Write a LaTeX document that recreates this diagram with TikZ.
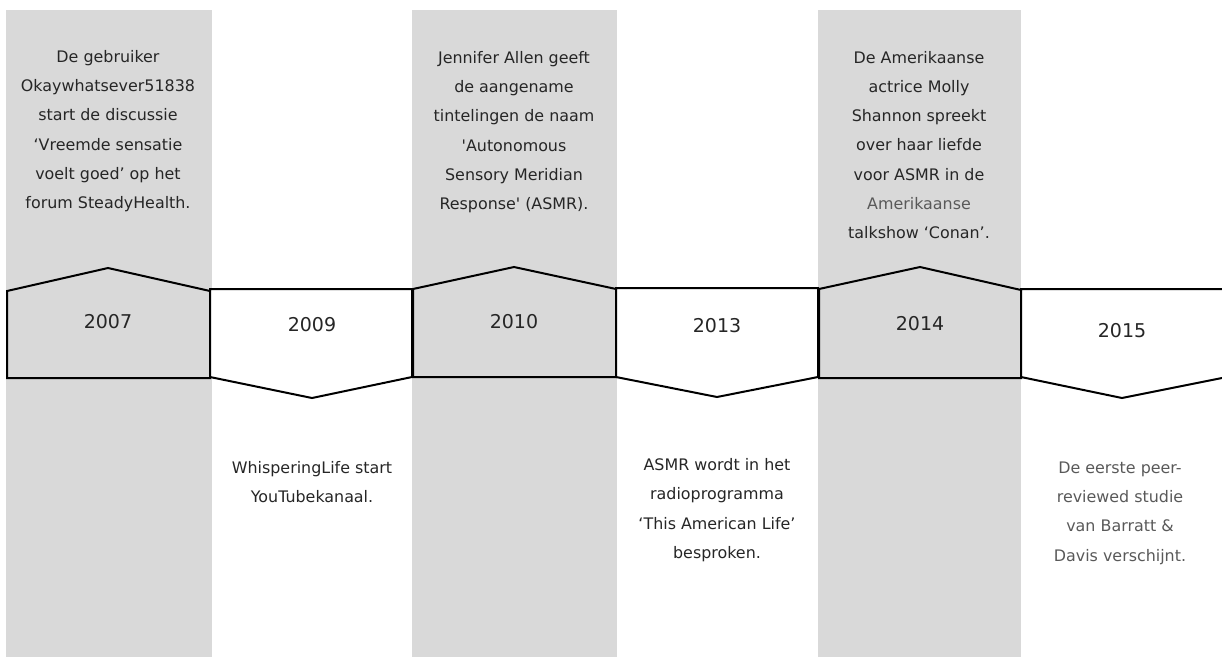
\documentclass[tikz,border=0pt]{standalone}
\usepackage{fontspec}
\setmainfont{DejaVu Sans}
\definecolor{bandgray}{HTML}{D9D9D9}
\definecolor{txtgray}{HTML}{262626}
\definecolor{lightgray}{HTML}{595959}
\begin{document}
\begin{tikzpicture}[x=1pt,y=-1pt,
  yearshape/.style={draw=black, line width=2pt, line join=miter},
  yearlabel/.style={font=\fontsize{19}{22}\selectfont, text=txtgray},
  eventtext/.style={font=\fontsize{15.9}{29.3}\selectfont, text=txtgray, align=center}]
\useasboundingbox (0,0) rectangle (1222,657);
\clip (0,0) rectangle (1222,657);
% gray bands
\fill[bandgray] (6,10) rectangle (212,657);
\fill[bandgray] (412,10) rectangle (617,657);
\fill[bandgray] (818,10) rectangle (1021,657);
% year shapes
\draw[yearshape, fill=bandgray] (7,291) -- (108,268) -- (210,291) -- (210,378) -- (7,378) -- cycle;
\draw[yearshape, fill=white] (210,289) -- (412,289) -- (412,377) -- (312,398) -- (210,377) -- cycle;
\draw[yearshape, fill=bandgray] (413,289) -- (514,267) -- (616,289) -- (616,377) -- (413,377) -- cycle;
\draw[yearshape, fill=white] (616,288) -- (818,288) -- (818,377) -- (717,397) -- (616,377) -- cycle;
\draw[yearshape, fill=bandgray] (819,289) -- (920,267) -- (1021,290) -- (1021,378) -- (819,378) -- cycle;
\draw[yearshape, fill=white] (1021,289) -- (1227,289) -- (1227,377) -- (1122,398) -- (1021,377) -- cycle;
% year labels
\node[yearlabel] (y2007) at (108,322) {2007};
\node[yearlabel] (y2009) at (312,325) {2009};
\node[yearlabel] (y2010) at (514,322) {2010};
\node[yearlabel] (y2013) at (717,326) {2013};
\node[yearlabel] (y2014) at (920,324) {2014};
\node[yearlabel] (y2015) at (1122,331) {2015};
% event texts
\node[eventtext] (t2007) at (108,131) {De gebruiker\\Okaywhatsever51838\\start de discussie\\‘Vreemde sensatie\\voelt goed’ op het\\forum SteadyHealth.};
\node[eventtext] (t2010) at (514,132) {Jennifer Allen geeft\\de aangename\\tintelingen de naam\\\textquotesingle Autonomous\\Sensory Meridian\\Response\textquotesingle{} (ASMR).};
\node[eventtext] (t2014) at (919,145) {De Amerikaanse\\actrice Molly\\Shannon spreekt\\over haar liefde\\voor ASMR in de\\\textcolor{lightgray}{Amerikaanse}\\talkshow ‘Conan’.};
\node[eventtext] (t2009) at (312,482) {WhisperingLife start\\YouTubekanaal.};
\node[eventtext] (t2013) at (717,510) {ASMR wordt in het\\radioprogramma\\‘This American Life’\\besproken.};
\node[eventtext, text=lightgray] (t2015) at (1120,513) {De eerste peer-\\reviewed studie\\van Barratt \&\\Davis verschijnt.};
\end{tikzpicture}
\end{document}
